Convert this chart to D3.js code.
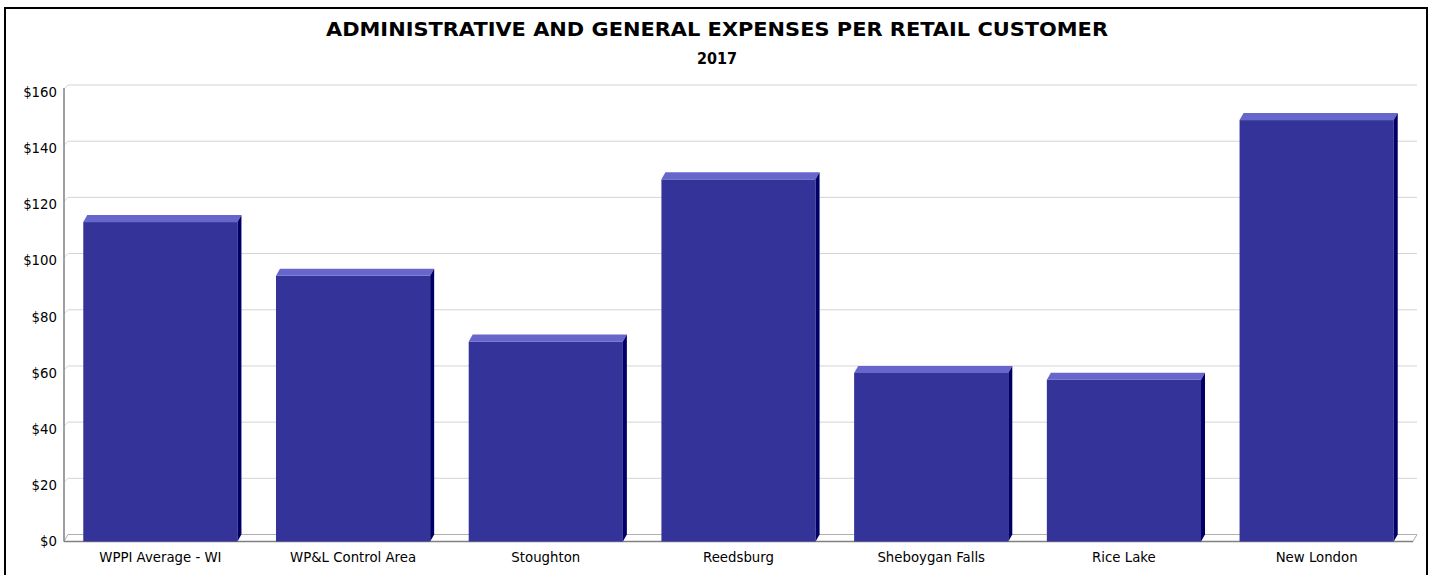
<!DOCTYPE html>
<html>
<head>
<meta charset="utf-8">
<script src="https://cdn.jsdelivr.net/npm/d3@7"></script>
<style>
  html, body { margin: 0; padding: 0; background: #fff; }
  svg { display: block; }
  text { font-family: "DejaVu Sans", Verdana, sans-serif; }
</style>
</head>
<body>
<svg id="chart" width="1433" height="575"></svg>
<script>
const categories = ["WPPI Average - WI", "WP&L Control Area", "Stoughton", "Reedsburg", "Sheboygan Falls", "Rice Lake", "New London"];
const values = [113.7, 94.6, 71.2, 128.9, 60.0, 57.6, 150.0];
const yTicks = [0, 20, 40, 60, 80, 100, 120, 140, 160];
const titleText = "ADMINISTRATIVE AND GENERAL EXPENSES PER RETAIL CUSTOMER";
const subtitleText = "2017";

const svg = d3.select("#chart");
const left = 64, right = 1413, y0 = 541.5, yTop = 92;
const dx = 4, dy = 7;

const x = d3.scaleBand().domain(categories).range([left, right]).paddingInner(0.2).paddingOuter(0.1);
const y = d3.scaleLinear().domain([0, 160]).range([y0, yTop]);

// frame
svg.append("rect").attr("x", 5).attr("y", 8).attr("width", 1422).attr("height", 580)
  .attr("fill", "none").attr("stroke", "#000").attr("stroke-width", 2);

// titles
svg.append("text").attr("x", 717).attr("y", 36).attr("text-anchor", "middle")
  .attr("font-size", 20).attr("font-weight", "bold")
  .attr("textLength", 782).attr("lengthAdjust", "spacingAndGlyphs")
  .text(titleText);
svg.append("text").attr("x", 717).attr("y", 64).attr("text-anchor", "middle")
  .attr("font-size", 15).attr("font-weight", "bold")
  .attr("textLength", 40).attr("lengthAdjust", "spacingAndGlyphs")
  .text(subtitleText);

// floor
svg.append("path")
  .attr("d", `M${left},${y0} L${left + dx},${y0 - dy} L${right + dx},${y0 - dy} L${right},${y0} Z`)
  .attr("fill", "#fff").attr("stroke", "#b0b0b0").attr("stroke-width", 1);

// gridlines (back wall)
const grid = svg.append("g");
yTicks.filter(t => t > 0).forEach(t => {
  const yy = y(t);
  grid.append("line").attr("x1", left + dx).attr("x2", right + dx)
    .attr("y1", yy - dy).attr("y2", yy - dy)
    .attr("stroke", "#d4d4d4").attr("stroke-width", 1);
  grid.append("line").attr("x1", left).attr("x2", left + dx)
    .attr("y1", yy - dy + 4).attr("y2", yy - dy)
    .attr("stroke", "#d4d4d4").attr("stroke-width", 1);
});

// y axis line
svg.append("line").attr("x1", left).attr("x2", left)
  .attr("y1", y(160) - 4).attr("y2", y0)
  .attr("stroke", "#808080").attr("stroke-width", 1.5);
// front floor edge
svg.append("line").attr("x1", left).attr("x2", right)
  .attr("y1", y0).attr("y2", y0)
  .attr("stroke", "#808080").attr("stroke-width", 1.5);

// y tick labels via axis
const yAxis = d3.axisLeft(y).tickValues(yTicks).tickSize(0).tickPadding(7)
  .tickFormat(d => "$" + d);
const ga = svg.append("g").attr("transform", `translate(${left},0)`).call(yAxis);
ga.select(".domain").remove();
ga.selectAll("text").attr("font-size", 13.3).attr("fill", "#000")
  .style("font-family", "'DejaVu Sans', sans-serif");

// bars
const bars = svg.append("g").selectAll("g").data(categories).join("g");
bars.each(function(c, i) {
  const g = d3.select(this);
  const bx = x(c), bw = x.bandwidth(), yt = y(values[i]);
  g.append("rect").attr("x", bx).attr("y", yt).attr("width", bw).attr("height", y0 - yt)
    .attr("fill", "#333399");
  g.append("path")
    .attr("d", `M${bx},${yt} L${bx + dx},${yt - dy} L${bx + bw + dx},${yt - dy} L${bx + bw},${yt} Z`)
    .attr("fill", "#6666cc");
  g.append("path")
    .attr("d", `M${bx + bw},${yt} L${bx + bw + dx},${yt - dy} L${bx + bw + dx},${y0 - dy} L${bx + bw},${y0} Z`)
    .attr("fill", "#000066");
});

// x axis labels
const xAxis = d3.axisBottom(x).tickSize(0).tickPadding(11);
const gx = svg.append("g").attr("transform", `translate(0,${y0})`).call(xAxis);
gx.select(".domain").remove();
gx.selectAll("text").attr("font-size", 13.3).attr("fill", "#000")
  .style("font-family", "'DejaVu Sans', sans-serif");
</script>
</body>
</html>
